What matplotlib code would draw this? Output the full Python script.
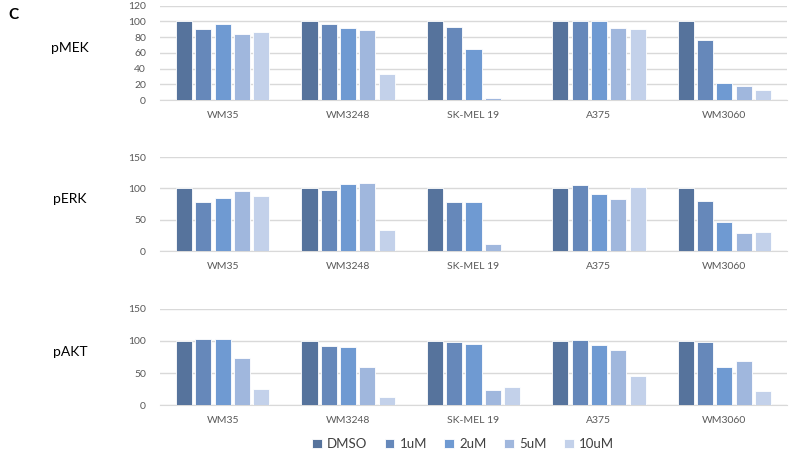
import numpy as np
import matplotlib.pyplot as plt

plt.rcParams['font.family'] = ['Lato', 'DejaVu Sans']

cell_lines = ['WM35', 'WM3248', 'SK-MEL 19', 'A375', 'WM3060']
doses = ['DMSO', '1uM', '2uM', '5uM', '10uM']
colors = ['#56739C', '#6688BA', '#6F9AD2', '#A0B7DD', '#C3D1EA']

# rows: dose, columns: cell line
pmek = [[100, 100, 100, 100, 100],
        [90, 96.5, 93, 101, 76.5],
        [96.5, 91.5, 65.5, 100, 21.5],
        [84, 89.5, 2, 91.5, 18],
        [86.5, 33, 0, 90.5, 13]]
perk = [[100, 100, 100, 100, 100],
        [78, 97, 78, 106, 80],
        [85, 107, 79, 90.5, 46],
        [96, 108.5, 10.5, 83, 29],
        [88, 33.5, 0, 102, 30]]
pakt = [[100, 100, 100, 100, 100],
        [103.5, 92, 98, 101.5, 98],
        [103.5, 90, 96, 93, 60],
        [74, 60, 23, 86.5, 69],
        [25.5, 12.5, 28.5, 46, 21.5]]

panels = [('pMEK', pmek, 120, 20, [0.2028, 0.7797, 0.7947, 0.2077]),
          ('pERK', perk, 150, 50, [0.2028, 0.4471, 0.7947, 0.2070]),
          ('pAKT', pakt, 150, 50, [0.2028, 0.1079, 0.7947, 0.2115])]

fig = plt.figure(figsize=(7.89, 4.54), dpi=100)
x = np.arange(len(cell_lines))
step = 0.154
width = 0.128

for name, vals, ymax, ystep, pos in panels:
    ax = fig.add_axes(pos)
    for j, d in enumerate(doses):
        ax.bar(x + (j - 2) * step, vals[j], width, color=colors[j],
               edgecolor='white', linewidth=0.6, label=d, zorder=3)
    ax.set_xlim(-0.5, 4.5)
    ax.set_ylim(0, ymax)
    ax.set_yticks(np.arange(0, ymax + 1, ystep))
    ax.set_xticks(x)
    ax.set_xticklabels(cell_lines)
    ax.grid(axis='y', color='#D9D9D9', linewidth=1, zorder=0)
    for s in ['top', 'right', 'left']:
        ax.spines[s].set_visible(False)
    ax.spines['bottom'].set_color('#D9D9D9')
    ax.tick_params(length=0, labelsize=7.5, labelcolor='#595959')
    ax.tick_params(axis='x', pad=8)
    ax.tick_params(axis='y', pad=10)
    y0, y1 = pos[1], pos[1] + pos[3]
    fig.text(70 / 789, (y0 + y1) / 2 + 0.01, name, fontsize=10, ha='center', va='center')
    if name == 'pMEK':
        handles, labels = ax.get_legend_handles_labels()

fig.text(8 / 789, 1 - 15 / 454, 'C', fontsize=11, fontweight='bold', ha='left', va='center')

fig.legend(handles, labels, loc='center', bbox_to_anchor=(463 / 789, 1 - 444 / 454),
           ncol=5, frameon=False, fontsize=9.5, handlelength=0.75, handleheight=0.75,
           handletextpad=0.4, columnspacing=1.3, labelcolor='#404040')

fig.savefig('out.png', dpi=100)
